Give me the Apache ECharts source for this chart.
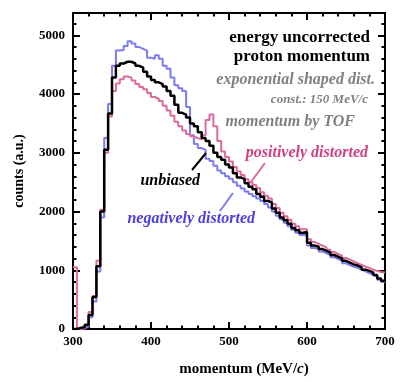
<!DOCTYPE html>
<html>
<head>
<meta charset="utf-8">
<script src="https://cdn.jsdelivr.net/npm/echarts@6/dist/echarts.min.js"></script>
<style>
  html, body { margin: 0; padding: 0; background: #fff; }
  #chart { width: 407px; height: 382px; }
</style>
</head>
<body>
<div id="chart"></div>
<script>
// bins: 5 MeV/c wide, 300 .. 700 MeV/c
var binLow = 300, binWidth = 5;

// unbiased (black)
var unbiased = [
  0, 20, 30, 70, 240, 545, 1070, 2000, 3050, 3670,
  4280, 4480, 4520, 4550, 4550, 4520, 4480, 4450, 4380, 4300,
  4240, 4200, 4170, 4130, 4050, 3970, 3820, 3680, 3650, 3600,
  3500, 3450, 3350, 3250, 3200, 3120, 3000, 2930, 2880, 2800,
  2750, 2650, 2580, 2550, 2480, 2420, 2380, 2300, 2250, 2180,
  2150, 2050, 1980, 1900, 1850, 1790, 1720, 1680, 1640, 1650,
  1470, 1420, 1400, 1360, 1330, 1300, 1260, 1230, 1200, 1160,
  1130, 1100, 1080, 1050, 1010, 990, 960, 920, 860, 820
];
// positively distorted (pink)
var positive = [
  1050, 0, 15, 80, 290, 560, 1160, 2030, 3000, 3620,
  4050, 4180, 4250, 4300, 4280, 4230, 4170, 4120, 4080, 4020,
  3950, 3920, 3880, 3800, 3720, 3630, 3530, 3450, 3380, 3320,
  3280, 3250, 3230, 3300, 3560, 3650, 3450, 3200, 3020, 2930,
  2850, 2760, 2680, 2620, 2550, 2500, 2450, 2400, 2330, 2270,
  2220, 2130, 2060, 1980, 1920, 1860, 1790, 1750, 1700, 1700,
  1530, 1480, 1450, 1420, 1390, 1350, 1310, 1280, 1250, 1210,
  1180, 1150, 1120, 1090, 1060, 1040, 1010, 990, 970, 960
];
// negatively distorted (blue)
var negative = [
  0, 0, 10, 40, 200, 470, 980, 1900, 3250, 3830,
  4480, 4740, 4750, 4820, 4900, 4860, 4800, 4770, 4740, 4620,
  4600, 4660, 4600, 4480, 4430, 4280, 4150, 4100, 4050, 3780,
  3300, 3150, 3080, 3050, 2900, 2860, 2780, 2700, 2650, 2600,
  2560, 2500, 2440, 2390, 2340, 2300, 2260, 2220, 2180, 2130,
  2070, 2000, 1930, 1870, 1810, 1750, 1690, 1640, 1600, 1590,
  1420, 1380, 1360, 1320, 1290, 1260, 1220, 1190, 1160, 1120,
  1090, 1060, 1040, 1010, 980, 950, 920, 890, 840, 800
];

var toSteps = function(vals) {
  var pts = [];
  for (var i = 0; i < vals.length; i++) {
    pts.push([binLow + i * binWidth, vals[i]]);
  }
  pts.push([binLow + vals.length * binWidth, vals[vals.length - 1]]);
  return pts;
};

var serif = 'Liberation Serif';
var frameLine = { show: true, onZero: false, lineStyle: { color: '#000', width: 2 } };

var xAxisBase = function(pos, labels) {
  return {
    type: 'value', position: pos, min: 300, max: 700, interval: 100,
    axisLine: frameLine,
    axisTick: { show: true, inside: true, length: 7, lineStyle: { color: '#000', width: 2 } },
    minorTick: { show: true, splitNumber: 5, length: 3.5, lineStyle: { color: '#000', width: 2 } },
    splitLine: { show: false },
    axisLabel: { show: labels, color: '#000', fontFamily: serif, fontWeight: 'bold', fontSize: 13, margin: 6,
      formatter: function(v) { return String(v); } }
  };
};
var yAxisBase = function(pos, labels) {
  return {
    type: 'value', position: pos, min: 0, max: 5380, interval: 1000,
    axisLine: frameLine,
    axisTick: { show: true, inside: true, length: 7, lineStyle: { color: '#000', width: 2 } },
    minorTick: { show: true, splitNumber: 5, length: 3.5, lineStyle: { color: '#000', width: 2 } },
    splitLine: { show: false },
    axisLabel: { show: labels, color: '#000', fontFamily: serif, fontWeight: 'bold', fontSize: 13, margin: 8,
      showMaxLabel: false, formatter: function(v) { return String(v); } }
  };
};

var xBottom = xAxisBase('bottom', true);
xBottom.name = '{b|momentum (MeV/}{i|c}{b|)}';
xBottom.nameLocation = 'middle';
xBottom.nameGap = 33;
xBottom.nameTextStyle = {
  padding: [0, 0, 0, 30],
  rich: {
    b: { fontFamily: serif, fontWeight: 'bold', fontSize: 15, color: '#000' },
    i: { fontFamily: serif, fontWeight: 'bold', fontStyle: 'italic', fontSize: 15, color: '#000' }
  }
};
var yLeft = yAxisBase('left', true);
yLeft.name = 'counts (a.u.)';
yLeft.nameLocation = 'middle';
yLeft.nameGap = 47;
yLeft.nameTextStyle = { fontFamily: serif, fontWeight: 'bold', fontSize: 14, color: '#000' };

var stepSeries = function(name, vals, color, width, z) {
  return {
    name: name, type: 'line', step: 'end', data: toSteps(vals),
    symbol: 'none', z: z, silent: true, animation: false,
    lineStyle: { color: color, width: width }
  };
};

var txt = function(x, y, s, size, color, style, weight, align) {
  return {
    type: 'text', x: x, y: y, z: 100,
    style: {
      text: s, fill: color, fontFamily: serif, fontSize: size,
      fontStyle: style || 'normal', fontWeight: weight || 'normal',
      align: align || 'right', verticalAlign: 'middle'
    }
  };
};
var lead = function(x1, y1, x2, y2, color) {
  return { type: 'line', z: 100, shape: { x1: x1, y1: y1, x2: x2, y2: y2 },
    style: { stroke: color, lineWidth: 2 } };
};

var chart = echarts.init(document.getElementById('chart'), null, { renderer: 'canvas' });
chart.setOption({
  backgroundColor: '#fff',
  animation: false,
  grid: { left: 73, top: 13, right: 22, bottom: 46 },
  xAxis: [xBottom, xAxisBase('top', false)],
  yAxis: [yLeft, yAxisBase('right', false)],
  series: [
    stepSeries('negatively distorted', negative, '#7b7bf2', 2, 2),
    stepSeries('positively distorted', positive, '#dd6a9c', 2, 3),
    stepSeries('unbiased', unbiased, '#000', 2.5, 4)
  ],
  graphic: [
    txt(370, 38, 'energy uncorrected', 17, '#000', 'normal', 'bold'),
    txt(370, 57, 'proton momentum', 17, '#000', 'normal', 'bold'),
    txt(375, 80, 'exponential shaped dist.', 16, '#808080', 'italic', 'bold'),
    txt(368, 100, 'const.: 150 MeV/c', 13, '#808080', 'italic', 'bold'),
    txt(355, 122, 'momentum by TOF', 16, '#808080', 'italic', 'bold'),
    txt(368, 153, 'positively distorted', 16, '#d0407f', 'italic', 'bold'),
    txt(200, 181, 'unbiased', 16, '#000', 'italic', 'bold'),
    txt(255, 219, 'negatively distorted', 16, '#4a3fe2', 'italic', 'bold'),
    lead(265, 163, 251, 182, '#dd6a9c'),
    lead(192, 170, 206, 153, '#000'),
    lead(220, 211, 233, 193, '#7b7bf2')
  ]
});
</script>
</body>
</html>
